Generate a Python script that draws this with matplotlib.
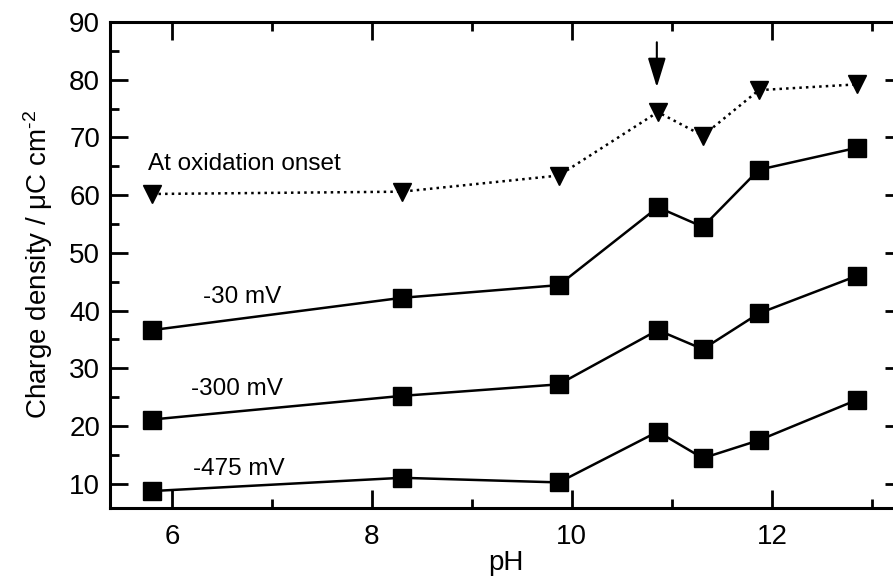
import numpy as np
import matplotlib
matplotlib.use("Agg")
import matplotlib.pyplot as plt

plt.rcParams['font.family'] = ['Liberation Sans', 'DejaVu Sans']
plt.rcParams['mathtext.fontset'] = 'custom'
plt.rcParams['mathtext.rm'] = 'Liberation Sans'
plt.rcParams['mathtext.default'] = 'regular'

# pH values and charge density for each potential
ph = [5.8, 8.3, 9.87, 10.86, 11.31, 11.87, 12.85]
onset = [60.2, 60.6, 63.4, 74.4, 70.3, 78.2, 79.2]
q30 = [36.6, 42.2, 44.4, 57.9, 54.5, 64.4, 68.2]
q300 = [21.1, 25.2, 27.2, 36.6, 33.3, 39.5, 46.0]
q475 = [8.7, 11.0, 10.2, 19.0, 14.4, 17.5, 24.5]

fig = plt.figure(figsize=(8.93, 5.81), dpi=100)
ax = fig.add_axes([0.123, 0.126, 0.888, 0.836])

ax.plot(ph, onset, ':', color='black', lw=1.8, marker='v', ms=13, mfc='black', mec='black')
for s in [q30, q300, q475]:
    ax.plot(ph, s, '-', color='black', lw=1.8, marker='s', ms=13, mfc='black', mec='black')

fs = 17.5
ax.text(5.76, 64.3, "At oxidation onset", fontsize=fs, va='baseline', ha='left')
ax.text(6.31, 41.3, "-30 mV", fontsize=fs, va='baseline', ha='left')
ax.text(6.19, 25.3, "-300 mV", fontsize=fs, va='baseline', ha='left')
ax.text(6.21, 11.5, "-475 mV", fontsize=fs, va='baseline', ha='left')

ax.annotate("", xy=(10.85, 78.7), xytext=(10.85, 86.5),
            arrowprops=dict(arrowstyle='-|>,head_length=1.8,head_width=0.55',
                            color='black', lw=1.5, shrinkA=0, shrinkB=0))

ax.set_xlim(5.38, 13.31)
ax.set_ylim(5.8, 90)
ax.set_xticks([6, 8, 10, 12])
ax.set_xticks([7, 9, 11, 13], minor=True)
ax.set_yticks([10, 20, 30, 40, 50, 60, 70, 80, 90])
ax.set_yticks([15, 25, 35, 45, 55, 65, 75, 85], minor=True)
ax.tick_params(which='both', direction='in', top=True, right=True, width=2, labelsize=20)
ax.tick_params(which='major', length=13)
ax.tick_params(which='minor', length=6.5)
ax.tick_params(axis='x', pad=12)
ax.tick_params(axis='y', pad=7)
for sp in ax.spines.values():
    sp.set_linewidth(2.2)

ax.set_xlabel("pH", fontsize=20, labelpad=0)
ax.set_ylabel(r"Charge density / μC cm$^{\text{-2}}$", fontsize=20, labelpad=10)

fig.savefig("out.png", dpi=100)
